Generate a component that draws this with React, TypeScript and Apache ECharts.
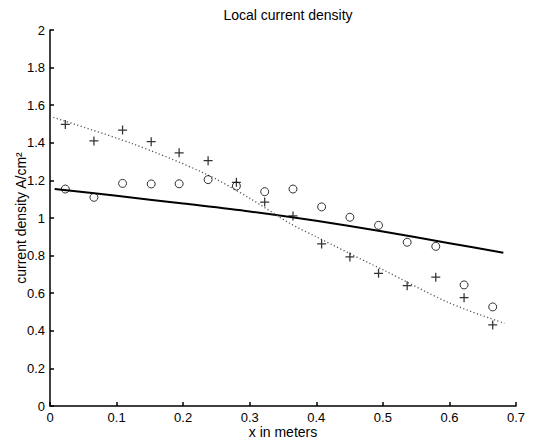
import React, { useEffect, useRef } from "react";
import * as echarts from "echarts";

const circleX = [0.023, 0.066, 0.109, 0.152, 0.194, 0.2375, 0.28, 0.3225, 0.365, 0.408, 0.4505, 0.4935, 0.5365, 0.5795, 0.622, 0.665];
const circleY = [1.154, 1.11, 1.184, 1.181, 1.182, 1.204, 1.17, 1.14, 1.154, 1.059, 1.004, 0.961, 0.871, 0.849, 0.644, 0.527];
const plusY = [1.498, 1.41, 1.468, 1.406, 1.347, 1.305, 1.19, 1.085, 1.011, 0.862, 0.793, 0.706, 0.64, 0.685, 0.576, 0.431];

const solidX = [0.007, 0.1, 0.2, 0.3, 0.4, 0.5, 0.6, 0.681];
const solidY = [1.154, 1.118, 1.077, 1.035, 0.985, 0.928, 0.866, 0.815];
const dottedX = [0.005, 0.1225, 0.2325, 0.3, 0.36, 0.4, 0.48, 0.5, 0.6, 0.6825];
const dottedY = [1.535, 1.397, 1.237, 1.105, 0.972, 0.9, 0.759, 0.725, 0.548, 0.44];

const titleText = "Local current density";
const xName = "x in meters";
const yName = "current density A/cm²";

const plusPath = "path://M4.3,0 L5.7,0 L5.7,4.3 L10,4.3 L10,5.7 L5.7,5.7 L5.7,10 L4.3,10 L4.3,5.7 L0,5.7 L0,4.3 L4.3,4.3 Z";

export default function App() {
  const ref = useRef<HTMLDivElement>(null);
  useEffect(() => {
    document.body.style.margin = "0";
    const chart = echarts.init(ref.current!, null, { renderer: "svg" });
    const font = "'Liberation Sans', Arial, Helvetica, sans-serif";
    const axisCommon = {
      type: "value" as const,
      nameLocation: "middle" as const,
      nameMoveOverlap: false,
      nameTextStyle: { fontSize: 14, color: "#000", fontFamily: font },
      axisLine: { show: true, lineStyle: { color: "#000", width: 1.5 } },
      axisTick: { show: true, inside: true, length: 4, lineStyle: { color: "#000", width: 1.5 } },
      axisLabel: { fontSize: 13, color: "#000", fontFamily: font },
      splitLine: { show: false },
    };
    chart.setOption({
      animation: false,
      backgroundColor: "#fff",
      title: {
        text: titleText,
        left: 283,
        textAlign: "center",
        top: 3,
        textStyle: { fontSize: 14, fontWeight: "normal", color: "#000", fontFamily: font },
      },
      grid: { left: 50, right: 19, top: 30, bottom: 37, containLabel: false, outerBoundsMode: "none" },
      xAxis: {
        ...axisCommon,
        min: 0,
        max: 0.7,
        interval: 0.1,
        name: xName,
        nameGap: 19,
        axisLabel: { ...axisCommon.axisLabel, margin: 5 },
      },
      yAxis: {
        ...axisCommon,
        min: 0,
        max: 2,
        interval: 0.2,
        name: yName,
        nameGap: 22,
        axisLabel: { ...axisCommon.axisLabel, margin: 5 },
      },
      series: [
        {
          type: "line",
          data: solidX.map((x, i) => [x, solidY[i]]),
          showSymbol: false,
          smooth: 0.3,
          lineStyle: { color: "#000", width: 2 },
          z: 2,
        },
        {
          type: "line",
          data: dottedX.map((x, i) => [x, dottedY[i]]),
          showSymbol: false,
          smooth: 0.3,
          lineStyle: { color: "#555", width: 1.3, type: [1.2, 2.4] },
          z: 2,
        },
        {
          type: "scatter",
          data: circleX.map((x, i) => [x, circleY[i]]),
          symbol: "circle",
          symbolSize: 8,
          itemStyle: { color: "none", borderColor: "#000", borderWidth: 1 },
          z: 3,
        },
        {
          type: "scatter",
          data: circleX.map((x, i) => [x, plusY[i]]),
          symbol: plusPath,
          symbolSize: 9,
          itemStyle: { color: "#000" },
          z: 3,
        },
      ],
    });
    return () => chart.dispose();
  }, []);
  return <div ref={ref} style={{ position: "fixed", left: 0, top: 0, width: 535, height: 443 }} />;
}
